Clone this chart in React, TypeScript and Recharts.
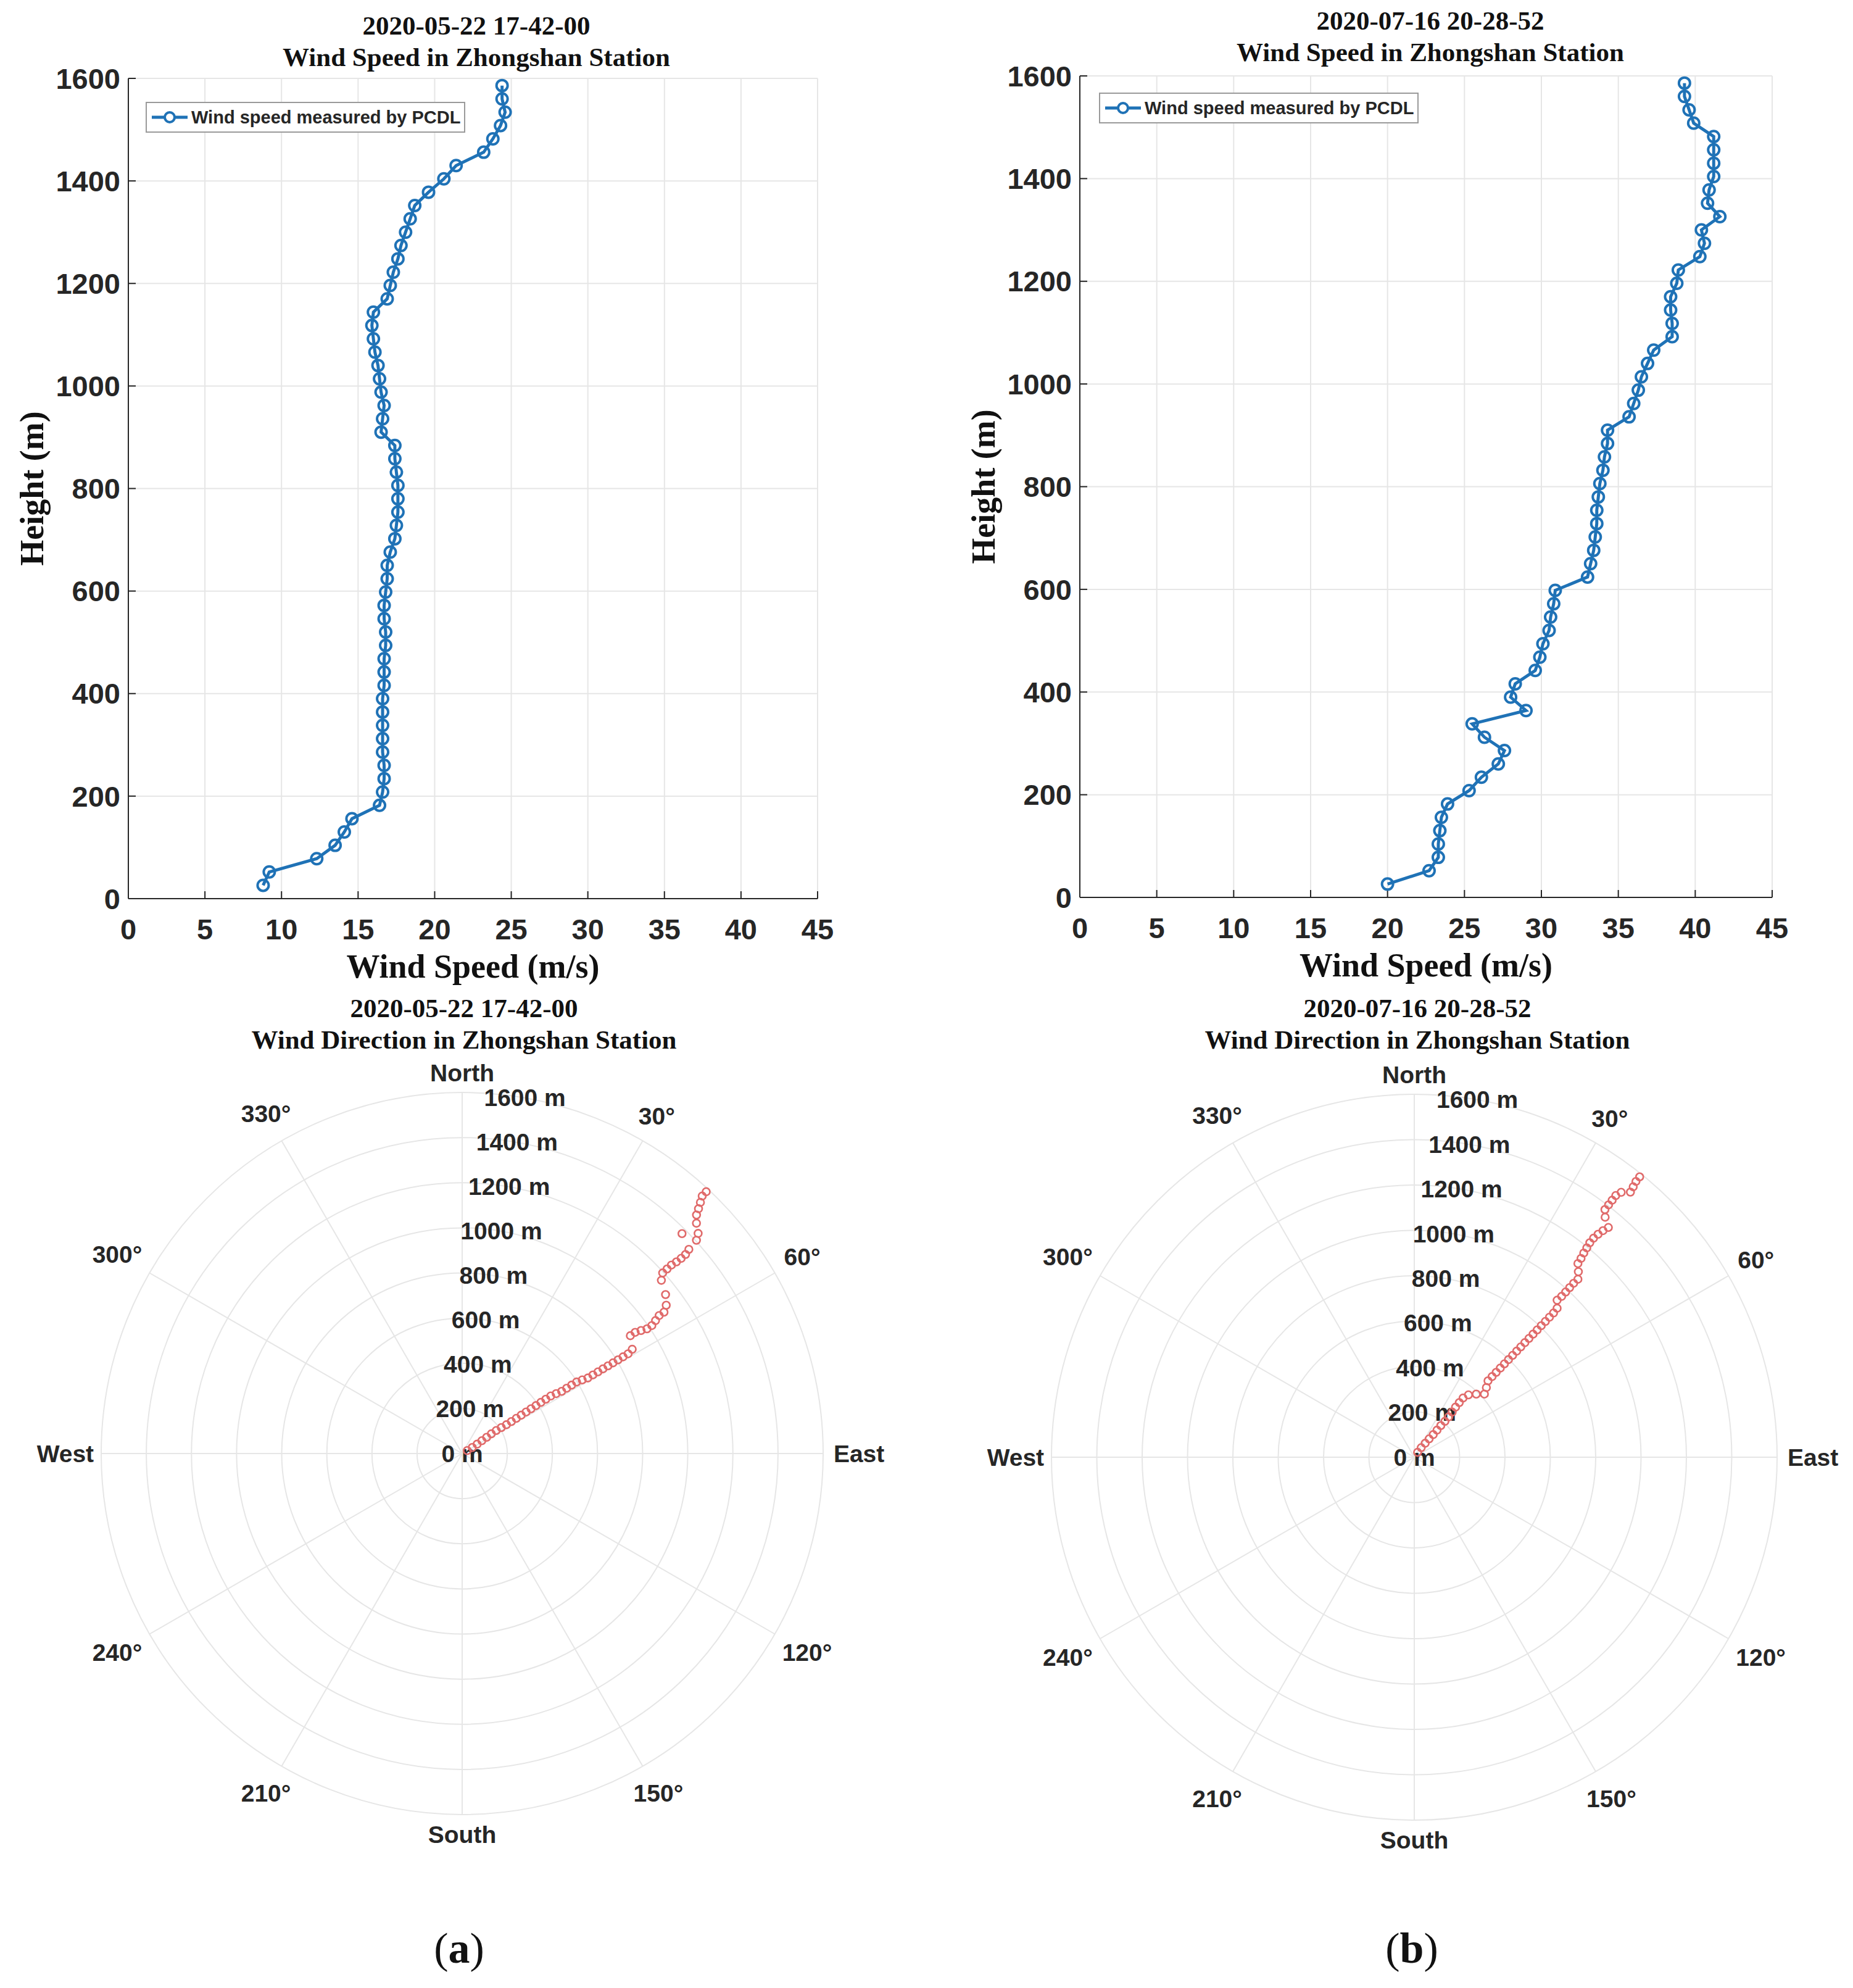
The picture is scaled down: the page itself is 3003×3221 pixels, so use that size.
import React from "react";
import {
  CartesianGrid,
  Legend,
  Line,
  LineChart,
  PolarAngleAxis,
  PolarGrid,
  PolarRadiusAxis,
  Radar,
  RadarChart,
  XAxis,
  YAxis,
} from "recharts";

// measurement heights (m), same range gates for both profiles
const heights = [
  26, 52, 78, 104, 130, 156, 182, 208, 234, 260, 286, 312, 338, 364, 390, 416, 442, 468, 494, 520,
  546, 572, 598, 624, 650, 676, 702, 728, 754, 780, 806, 832, 858, 884, 910, 936, 962, 988, 1014,
  1040, 1066, 1092, 1118, 1144, 1170, 1196, 1222, 1248, 1274, 1300, 1326, 1352, 1378, 1404, 1430,
  1456, 1482, 1508, 1534, 1560, 1586,
];

// wind speed (m/s) 2020-05-22 17-42-00
const speedMay = [
  8.8, 9.2, 12.3, 13.5, 14.1, 14.6, 16.4, 16.6, 16.7, 16.7, 16.6, 16.6, 16.6, 16.6, 16.6, 16.7, 16.7,
  16.7, 16.8, 16.8, 16.7, 16.7, 16.8, 16.9, 16.9, 17.1, 17.4, 17.5, 17.6, 17.6, 17.6, 17.5, 17.4, 17.4,
  16.5, 16.6, 16.7, 16.5, 16.4, 16.3, 16.1, 16.0, 15.9, 16.0, 16.9, 17.1, 17.3, 17.6, 17.8, 18.1, 18.4,
  18.7, 19.6, 20.6, 21.4, 23.2, 23.8, 24.3, 24.6, 24.4, 24.4,
];

// wind speed (m/s) 2020-07-16 20-28-52
const speedJul = [
  20.0, 22.7, 23.3, 23.3, 23.4, 23.5, 23.9, 25.3, 26.1, 27.2, 27.6, 26.3, 25.5, 29.0, 28.0, 28.3, 29.6,
  29.9, 30.1, 30.5, 30.6, 30.8, 30.9, 33.0, 33.2, 33.4, 33.5, 33.6, 33.6, 33.7, 33.8, 34.0, 34.1, 34.3,
  34.3, 35.7, 36.0, 36.3, 36.5, 36.9, 37.3, 38.5, 38.5, 38.4, 38.4, 38.8, 38.9, 40.3, 40.6, 40.4, 41.6,
  40.8, 40.9, 41.2, 41.2, 41.2, 41.2, 39.9, 39.6, 39.3, 39.3,
];

// wind direction (deg, clockwise from north)
const dirMay = [
  60, 59, 58, 57, 56.5, 56, 56, 56.5, 57, 57, 57, 57, 57, 57, 57, 57, 57, 57, 57.5, 58, 58, 58, 58,
  58.5, 59, 59, 59, 59, 59, 59, 59, 59, 59, 58.5, 55, 55, 55.5, 56, 56, 55.5, 55, 55, 54, 52, 49, 48,
  48, 48, 48.2, 48.3, 48.3, 48, 45, 47.7, 47, 45.5, 44.5, 44, 43.5, 43, 43,
];

const dirJul = [
  34, 36, 38, 39, 40, 40, 40, 40.5, 40.5, 40, 39.5, 39.5, 39.5, 41, 44.5, 48, 46, 44, 44, 44, 44, 44,
  44, 44, 44, 44, 44, 44, 44, 44, 44, 44, 44, 44, 43.8, 42.3, 42.5, 42.5, 42.5, 42.5, 42.6, 41.5, 40.2,
  40, 39.7, 39.5, 39.3, 39.3, 39.5, 39.8, 40.2, 38.5, 37.6, 37.6, 37.6, 37.6, 38, 39.2, 39, 38.8, 38.8,
];

const speedTicks = [0, 5, 10, 15, 20, 25, 30, 35, 40, 45];
const heightTicks = [0, 200, 400, 600, 800, 1000, 1200, 1400, 1600];
const compassTicks = [0, 30, 60, 90, 120, 150, 180, 210, 240, 270, 300, 330];
const compassNames: Record<number, string> = { 0: "North", 90: "East", 180: "South", 270: "West" };

const SANS = '"Liberation Sans", Arial, Helvetica, sans-serif';
const SERIF = '"Liberation Serif", "Times New Roman", serif';
const BLUE = "#1f72b6";
const RED = "#e06a6a";
const INK = "#262626";
const GRID = "#e6e6e6";

function Title({ cx, top, lines }: { cx: number; top: number; lines: string[] }) {
  return (
    <div
      style={{
        position: "absolute",
        left: cx - 600,
        top,
        width: 1200,
        textAlign: "center",
        fontFamily: SERIF,
        fontWeight: 700,
        fontSize: 43,
        lineHeight: "51px",
        color: "#111",
      }}
    >
      {lines.map((l) => (
        <div key={l}>{l}</div>
      ))}
    </div>
  );
}

function LegendBox() {
  return (
    <div
      style={{
        width: 514,
        height: 46,
        border: "2px solid #9a9a9a",
        background: "#fff",
        display: "flex",
        alignItems: "center",
      }}
    >
      <svg width={68} height={46}>
        <line x1={8} x2={66} y1={23} y2={23} stroke={BLUE} strokeWidth={5} />
        <circle cx={37} cy={23} r={8} fill="#fff" stroke={BLUE} strokeWidth={4} />
      </svg>
      <span style={{ fontFamily: SANS, fontWeight: 700, fontSize: 29, color: INK, marginLeft: 4 }}>
        Wind speed measured by PCDL
      </span>
    </div>
  );
}

type SpeedProps = {
  left: number;
  plotTop: number;
  plotBottom: number;
  plotRight: number;
  speeds: number[];
  legendTop: number;
  legendLeft: number;
};

function SpeedPanel({ left, plotTop, plotBottom, plotRight, speeds, legendTop, legendLeft }: SpeedProps) {
  const W = 1400;
  const H = 1640;
  const data = heights.map((h, i) => ({ h, v: speeds[i] }));
  const axisStroke = { stroke: INK, strokeWidth: 2 };
  const tickFont = { fill: INK, fontSize: 47, fontWeight: 700, fontFamily: SANS };
  const labelFont = { fill: "#111", fontSize: 54, fontWeight: 700, fontFamily: SERIF };

  return (
    <div style={{ position: "absolute", left, top: 0, width: W, height: H }}>
      <LineChart
        width={W}
        height={H}
        data={data}
        layout="vertical"
        margin={{ top: plotTop, right: W - (plotRight - left), bottom: H - plotBottom - 150, left: 18 }}
      >
        <CartesianGrid stroke={GRID} strokeWidth={2} />
        <XAxis
          type="number"
          domain={[0, 45]}
          ticks={speedTicks}
          height={150}
          allowDataOverflow
          tickSize={-12}
          tickMargin={45}
          tickLine={axisStroke}
          axisLine={axisStroke}
          tick={tickFont}
          label={{ value: "Wind Speed (m/s)", position: "insideBottom", offset: 22, ...labelFont }}
        />
        <YAxis
          type="number"
          dataKey="h"
          domain={[0, 1600]}
          ticks={heightTicks}
          reversed
          width={190}
          allowDataOverflow
          tickSize={-12}
          tickMargin={25}
          tickLine={axisStroke}
          axisLine={axisStroke}
          tick={tickFont}
          label={{
            value: "Height (m)",
            angle: -90,
            position: "insideLeft",
            offset: 33,
            style: { textAnchor: "middle" },
            ...labelFont,
          }}
        />
        <XAxis
          xAxisId="top"
          orientation="top"
          type="number"
          domain={[0, 45]}
          ticks={speedTicks}
          height={0}
          mirror
          tick={false}
          tickSize={12}
          tickLine={axisStroke}
          axisLine={axisStroke}
        />
        <YAxis
          yAxisId="right"
          orientation="right"
          type="number"
          domain={[0, 1600]}
          ticks={heightTicks}
          reversed
          width={0}
          mirror
          tick={false}
          tickSize={12}
          tickLine={axisStroke}
          axisLine={axisStroke}
        />
        <Legend
          layout="vertical"
          align="center"
          verticalAlign="middle"
          content={<LegendBox />}
          wrapperStyle={{ top: legendTop, left: legendLeft, width: 520, height: 52 }}
        />
        <Line
          dataKey="v"
          type="linear"
          stroke={BLUE}
          strokeWidth={5}
          isAnimationActive={false}
          dot={(p: any) => (
            <circle key={`dot-${p.index}`} cx={p.cx} cy={p.cy} r={9} fill="none" stroke={BLUE} strokeWidth={4} />
          )}
        />
      </LineChart>
    </div>
  );
}

const POLAR_FONT = 39;

function AngleTick(p: any) {
  const v = Number(p.payload?.value);
  const label = compassNames[v] ?? `${v}°`;
  const rad = (v * Math.PI) / 180;
  const s = Math.sin(rad);
  const c = Math.cos(rad);
  const extra = 0.27 * POLAR_FONT * label.length * Math.abs(s) + 16 * Math.abs(c);
  return (
    <text
      x={p.x + extra * s}
      y={p.y - extra * c}
      textAnchor="middle"
      dominantBaseline="central"
      fill={INK}
      fontFamily={SANS}
      fontWeight={700}
      fontSize={POLAR_FONT}
    >
      {label}
    </text>
  );
}

function RadiusTick(p: any) {
  return (
    <text
      x={p.x}
      y={p.y}
      textAnchor="middle"
      dominantBaseline="central"
      fill={INK}
      fontFamily={SANS}
      fontWeight={700}
      fontSize={POLAR_FONT}
    >
      {`${p.payload?.value} m`}
    </text>
  );
}

function DirectionPanel({ cx, cy, R, dirs }: { cx: number; cy: number; R: number; dirs: number[] }) {
  const S = 1400;
  const data = heights.map((h, i) => ({ h, dir: dirs[i] }));
  return (
    <div style={{ position: "absolute", left: cx - S / 2, top: cy - S / 2, width: S, height: S }}>
      <RadarChart
        width={S}
        height={S}
        data={data}
        outerRadius={R}
        startAngle={90}
        endAngle={-270}
        margin={{ top: 0, right: 0, bottom: 0, left: 0 }}
      >
        <PolarGrid gridType="circle" stroke={GRID} strokeWidth={2} />
        <PolarAngleAxis
          dataKey="dir"
          type="number"
          scale="linear"
          domain={[0, 360]}
          ticks={compassTicks as any}
          tickLine={false}
          axisLine={false}
          tickSize={16}
          tick={AngleTick}
        />
        <PolarRadiusAxis
          angle={80}
          type="number"
          domain={[0, 1600]}
          ticks={heightTicks as any}
          axisLine={false}
          tickLine={false}
          tick={RadiusTick}
        />
        <Radar
          dataKey="h"
          fill="none"
          stroke="none"
          isAnimationActive={false}
          dot={(p: any) => (
            <circle key={`pt-${p.index}`} cx={p.cx} cy={p.cy} r={6} fill="none" stroke={RED} strokeWidth={2.6} />
          )}
        />
      </RadarChart>
    </div>
  );
}

function Caption({ cx, letter }: { cx: number; letter: string }) {
  return (
    <div
      style={{
        position: "absolute",
        left: cx - 100,
        top: 3112,
        width: 200,
        textAlign: "center",
        fontFamily: SERIF,
        fontSize: 70,
        lineHeight: "90px",
        color: "#111",
      }}
    >
      (<b>{letter}</b>)
    </div>
  );
}

export default function App() {
  return (
    <div style={{ position: "absolute", left: 0, top: 0, width: 3003, height: 3221, background: "#fff" }}>
      <SpeedPanel
        left={0}
        plotTop={127}
        plotBottom={1456}
        plotRight={1325}
        speeds={speedMay}
        legendTop={165}
        legendLeft={236}
      />
      <SpeedPanel
        left={1542}
        plotTop={123}
        plotBottom={1454}
        plotRight={2872}
        speeds={speedJul}
        legendTop={150}
        legendLeft={239}
      />
      <DirectionPanel cx={749} cy={2355} R={585} dirs={dirMay} />
      <DirectionPanel cx={2292} cy={2361} R={588} dirs={dirJul} />

      <Title cx={772} top={16} lines={["2020-05-22 17-42-00", "Wind Speed in Zhongshan Station"]} />
      <Title cx={2318} top={8} lines={["2020-07-16 20-28-52", "Wind Speed in Zhongshan Station"]} />
      <Title cx={752} top={1608} lines={["2020-05-22 17-42-00", "Wind Direction in Zhongshan Station"]} />
      <Title cx={2297} top={1608} lines={["2020-07-16 20-28-52", "Wind Direction in Zhongshan Station"]} />

      <Caption cx={744} letter="a" />
      <Caption cx={2288} letter="b" />
    </div>
  );
}
